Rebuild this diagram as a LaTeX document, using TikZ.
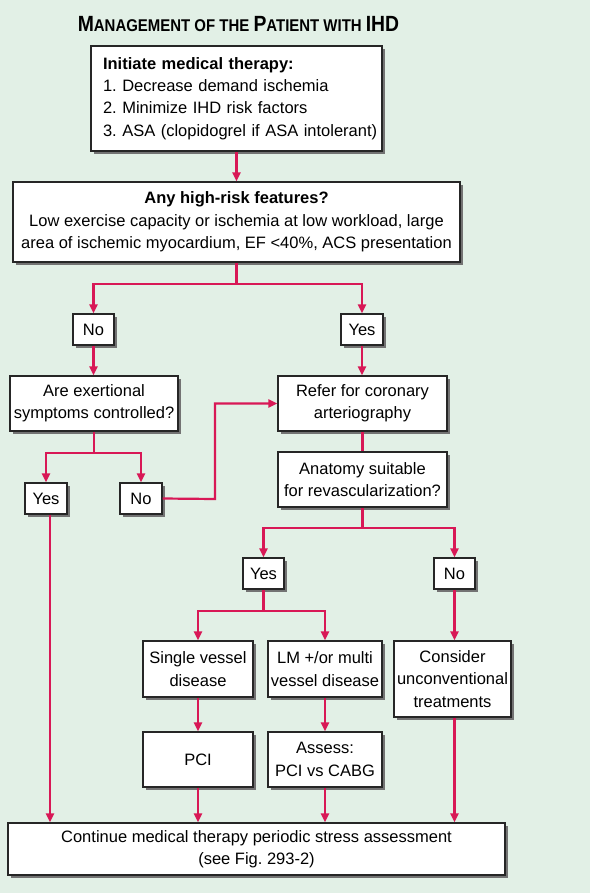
\documentclass[tikz,border=0pt]{standalone}
\usepackage{fontspec}
\usepackage{graphicx}
\setmainfont{Liberation Sans}
\usetikzlibrary{arrows.meta,shadows}
\definecolor{bgc}{RGB}{226,240,230}
\definecolor{linkc}{RGB}{216,24,86}
\newcommand\ttlcap[1]{{\fontsize{22}{22}\selectfont #1}}
\frenchspacing
\begin{document}
\begin{tikzpicture}[x=1pt,y=-1pt,
  box/.style={draw=black!85,line width=1.4pt,fill=white,inner sep=0pt,align=center,
    general shadow={fill=black!55,shadow xshift=3pt,shadow yshift=-3pt},
    font=\fontsize{16.5}{22.3}\selectfont},
  link/.style={draw=linkc,line width=2.2pt},
  arr/.style={link,-{Triangle[length=9pt,width=8pt]}}]
\fill[bgc] (0,0) rectangle (590,893);
\useasboundingbox (0,0) rectangle (590,893);

\node[font=\bfseries\fontsize{17}{20}\selectfont,inner sep=0pt] (title) at (238.5,24)
  {\scalebox{0.88}[1]{\ttlcap{M}ANAGEMENT OF THE \ttlcap{P}ATIENT WITH \ttlcap{IHD}}};

\node[box,minimum width=291pt,minimum height=105pt,inner xsep=12pt,text width=267pt,align=left] (top) at (236.5,98.5)
  {\mbox{\textbf{Initiate medical therapy:}}\\
   \mbox{1. Decrease demand ischemia}\\
   \mbox{2. Minimize IHD risk factors}\\
   \mbox{3. ASA (clopidogrel if ASA intolerant)}};

\node[box,minimum width=447pt,minimum height=80pt] (risk) at (236.5,222)
  {\textbf{Any high-risk features?}\\
   Low exercise capacity or ischemia at low workload, large\\
   area of ischemic myocardium, EF <40\%, ACS presentation};

\node[box,minimum width=41pt,minimum height=31pt] (no1) at (93.5,329.5) {No};
\node[box,minimum width=42pt,minimum height=31pt] (yes1) at (362,329.5) {Yes};

\node[box,minimum width=168pt,minimum height=55pt] (exert) at (94,403.5)
  {Are exertional\\symptoms controlled?};
\node[box,minimum width=169pt,minimum height=55pt] (refer) at (362.5,403.5)
  {Refer for coronary\\arteriography};

\node[box,minimum width=42pt,minimum height=31pt] (yes2) at (46,498.5) {Yes};
\node[box,minimum width=42pt,minimum height=31pt] (no2) at (141,498.5) {No};

\node[box,minimum width=169pt,minimum height=55pt] (anat) at (362.5,479.5)
  {Anatomy suitable\\for revascularization?};

\node[box,minimum width=41pt,minimum height=31pt] (yes3) at (263.5,573.5) {Yes};
\node[box,minimum width=41pt,minimum height=31pt] (no3) at (454.5,573.5) {No};

\node[box,minimum width=110pt,minimum height=56pt] (single) at (198,669)
  {Single vessel\\disease};
\node[box,minimum width=114pt,minimum height=56pt] (lm) at (325,669)
  {LM +/or multi\\vessel disease};
\node[box,minimum width=117pt,minimum height=76pt] (cons) at (452.5,679)
  {Consider\\unconventional\\treatments};

\node[box,minimum width=110pt,minimum height=55pt] (pci) at (198,759.5) {PCI};
\node[box,minimum width=114pt,minimum height=55pt] (assess) at (325,759.5)
  {Assess:\\PCI vs CABG};

\node[box,minimum width=497pt,minimum height=52pt] (bottom) at (256.5,849)
  {Continue medical therapy periodic stress assessment\\(see Fig. 293-2)};

% connectors
\draw[arr] (top.south) -- (risk.north);
\coordinate (b1) at (236.5,284);
\draw[link] (risk.south) -- (b1);
\draw[arr] (b1) -| (no1.north);
\draw[arr] (b1) -| (yes1.north);
\draw[arr] (no1.south) -- (no1.south |- exert.north);
\draw[arr] (yes1.south) -- (yes1.south |- refer.north);

\coordinate (b2) at (94,453);
\draw[link] (exert.south) -- (b2);
\draw[arr] (b2) -| (yes2.north);
\draw[arr] (b2) -| (no2.north);
\coordinate (k1) at (215,499);
\draw[arr] (no2.east) -- (k1) |- (refer.west);

\draw[link] (refer.south) -- (anat.north);

\coordinate (b3) at (362.5,528);
\draw[link] (anat.south) -- (b3);
\draw[arr] (b3) -| (yes3.north);
\draw[arr] (b3) -| (no3.north);

\coordinate (b4) at (263.5,611);
\draw[link] (yes3.south) -- (b4);
\draw[arr] (b4) -| (single.north);
\draw[arr] (b4) -| (lm.north);
\draw[arr] (no3.south) -- (no3.south |- cons.north);

\draw[arr] (single.south) -- (pci.north);
\draw[arr] (lm.south) -- (assess.north);

\draw[arr] ([xshift=4pt]yes2.south) -- ([xshift=4pt]yes2.south |- bottom.north);
\draw[arr] (pci.south) -- (pci.south |- bottom.north);
\draw[arr] (assess.south) -- (assess.south |- bottom.north);
\draw[arr] (no3.south |- cons.south) -- (no3.south |- bottom.north);
\end{tikzpicture}
\end{document}
